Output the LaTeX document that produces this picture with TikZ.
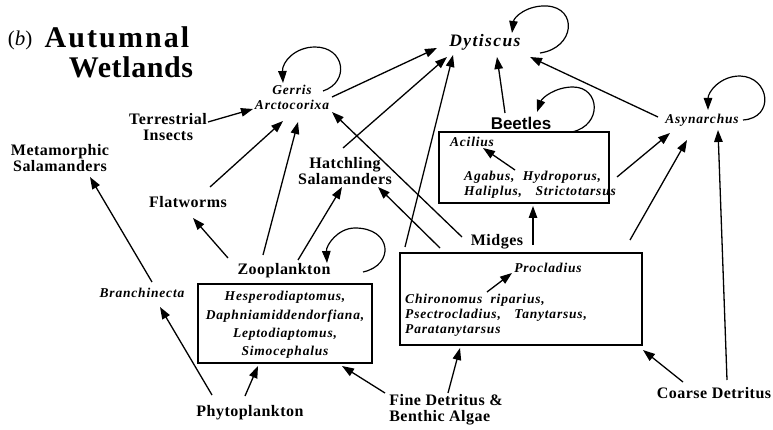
\documentclass[tikz,border=0pt]{standalone}
\usepackage{fontspec}
\setmainfont{Liberation Serif}
\newfontfamily\labfont[LetterSpace=3]{Liberation Serif}
\newfontfamily\spfont[LetterSpace=6]{Liberation Serif}
\newfontfamily\dytfont[LetterSpace=8]{Liberation Serif}
\newfontfamily\ttlfont[LetterSpace=7]{Liberation Serif}
\newfontfamily\ttlbfont[LetterSpace=2]{Liberation Serif}
\newfontfamily\beefont{Liberation Sans}
\usetikzlibrary{arrows.meta,calc}
\begin{document}
\begin{tikzpicture}[x=1pt,y=-1pt,
  lab/.style={font=\labfont\bfseries\fontsize{16}{16}\selectfont,inner sep=0,align=center},
  spec/.style={font=\spfont\bfseries\itshape\fontsize{13.5}{15}\selectfont,inner sep=0},
  arr/.style={-{Triangle[length=12pt,width=8.5pt]},line width=1.3pt},
  loop/.style={-{Triangle[length=12pt,width=8.5pt]},line width=1.2pt},
  box/.style={draw,line width=1.2pt,inner sep=0}]
\fill[white] (0,0) rectangle (773,430);
\useasboundingbox (0,0) rectangle (773,430);
% title
\node[font=\fontsize{21}{24}\selectfont,inner sep=0] (tb) at (20,40) {(\textit{b})};
\node[font=\ttlfont\bfseries\fontsize{30}{30}\selectfont,inner sep=0] (ta) at (117,37) {Autumnal};
\node[font=\ttlbfont\bfseries\fontsize{30}{30}\selectfont,inner sep=0] (tw) at (131,67) {Wetlands};
% nodes
\node[font=\dytfont\bfseries\itshape\fontsize{17.5}{18}\selectfont,inner sep=0] (dyt) at (485,42) {Dytiscus};
\node[spec,align=center] (ger) at (292,97) {Gerris\\Arctocorixa};
\node[lab] (ter) at (168,127) {Terrestrial\\Insects};
\node[lab] (met) at (60,158) {Metamorphic\\Salamanders};
\node[lab] (hat) at (345,171) {Hatchling\\Salamanders};
\node[font=\beefont\bfseries\fontsize{17}{19}\selectfont,inner sep=0] (bee) at (521,123) {Beetles};
\node[box,minimum width=170pt,minimum height=71pt] (beebox) at (524,167.5) {};
\node[spec] (acil) at (472,142) {Acilius};
\node[spec,align=left,anchor=west] (agab) at (464,184.5) {Agabus,\ \ Hydroporus,\\Haliplus,\quad Strictotarsus};
\node[spec] (asy) at (702,120) {Asynarchus};
\node[lab] (flat) at (188,202) {Flatworms};
\node[lab] (zoo) at (284,271) {Zooplankton};
\node[box,minimum width=174pt,minimum height=79pt] (zoobox) at (285,323.5) {};
\node[spec,align=center,font=\spfont\bfseries\itshape\fontsize{13.5}{18.3}\selectfont] (zoosp) at (285,325) {Hesperodiaptomus,\\Daphniamiddendorfiana,\\Leptodiaptomus,\\Simocephalus};
\node[spec] (bra) at (142,293) {Branchinecta};
\node[lab] (mid) at (497,242) {Midges};
\node[box,minimum width=242pt,minimum height=92pt] (midbox) at (521,299) {};
\node[spec] (pro) at (548,268) {Procladius};
\node[spec,align=left,anchor=west] (chi) at (405,315) {Chironomus\ \ riparius,\\Psectrocladius,\quad Tanytarsus,\\Paratanytarsus};
\node[lab] (phy) at (250,413) {Phytoplankton};
\node[lab,align=left] (fine) at (446,410) {Fine Detritus \&\\Benthic Algae};
\node[lab] (coa) at (714,393) {Coarse Detritus};
% connectors
\draw[arr] ($(ter)+(40,-5)$) -- ($(ger)+(-39,12)$);
\draw[arr] ($(ger)+(40,0)$) -- ($(dyt)+(-48,6)$);
\draw[arr] ($(flat)+(22,-15)$) -- ($(ger)+(-9,24)$);
\draw[arr] ($(zoo)+(-21,-16)$) -- ($(ger)+(6,25)$);
\draw[arr] ($(zoo)+(-56,-13)$) -- ($(flat)+(5,16)$);
\draw[arr] ($(zoo)+(14,-11)$) -- ($(hat)+(-3,16)$);
\draw[arr] ($(hat)+(-2,-23)$) -- ($(dyt)+(-38,15)$);
\draw[arr] ($(midbox)+(-116,-52)$) -- ($(dyt)+(-32,13)$);
\draw[arr] ($(mid)+(-35,-5)$) -- ($(ger)+(40,15)$);
\draw[arr] ($(midbox)+(-81,-51)$) -- ($(hat)+(33,16)$);
\draw[arr] ($(mid)+(36,3)$) -- ($(beebox)+(9,38.5)$);
\draw[arr] ($(midbox)+(109,-59)$) -- ($(asy)+(-15,20)$);
\draw[arr] ($(beebox)+(93,9.5)$) -- ($(asy)+(-32,13)$);
\draw[arr] ($(coa)+(13,-13)$) -- ($(asy)+(16,10)$);
\draw[arr] ($(asy)+(-44,-3)$) -- ($(dyt)+(45,15)$);
\draw[arr] ($(bee)+(-16,-10)$) -- ($(dyt)+(12,15)$);
\draw[arr] ($(coa)+(-31,-11)$) -- ($(midbox)+(122,51)$);
\draw[arr] ($(fine)+(2,-17)$) -- ($(midbox)+(-61,49)$);
\draw[arr] ($(fine)+(-61,-17)$) -- ($(zoobox)+(57,42.5)$);
\draw[arr] ($(phy)+(-5,-17)$) -- ($(zoobox)+(-27,42.5)$);
\draw[arr] ($(phy)+(-38,-18)$) -- ($(bra)+(18,14)$);
\draw[arr] ($(bra)+(10,-11)$) -- ($(met)+(30,19)$);
\draw[arr] ($(chi.west)+(82,-23)$) -- ($(pro)+(-36,5)$);
\draw[arr] ($(agab.west)+(51,-14.5)$) -- ($(acil)+(11,6)$);
% self loops
\draw[loop] ($(dyt)+(55,11)$) .. controls ($(dyt)+(90,6)$) and ($(dyt)+(93,-34)$) .. ($(dyt)+(62,-36)$) .. controls ($(dyt)+(42,-37)$) and ($(dyt)+(29,-25)$) .. ($(dyt)+(27,-9)$);
\draw[loop] ($(ger)+(31,-6)$) .. controls ($(ger)+(58,-15)$) and ($(ger)+(53,-50)$) .. ($(ger)+(23,-50)$) .. controls ($(ger)+(3,-50)$) and ($(ger)+(-10,-35)$) .. ($(ger)+(-9,-14)$);
\draw[loop] ($(bee)+(51,9)$) .. controls ($(bee)+(82,2)$) and ($(bee)+(79,-36)$) .. ($(bee)+(52,-36)$) .. controls ($(bee)+(34,-36)$) and ($(bee)+(21,-25)$) .. ($(bee)+(16,-11)$);
\draw[loop] ($(asy)+(41,0)$) .. controls ($(asy)+(73,-2)$) and ($(asy)+(68,-43)$) .. ($(asy)+(38,-44)$) .. controls ($(asy)+(18,-44)$) and ($(asy)+(6,-28)$) .. ($(asy)+(6,-10)$);
\draw[loop] ($(zoo)+(79,1)$) .. controls ($(zoo)+(111,-6)$) and ($(zoo)+(108,-43)$) .. ($(zoo)+(71,-43)$) .. controls ($(zoo)+(54,-43)$) and ($(zoo)+(42,-26)$) .. ($(zoo)+(43,-8)$);
\end{tikzpicture}
\end{document}
